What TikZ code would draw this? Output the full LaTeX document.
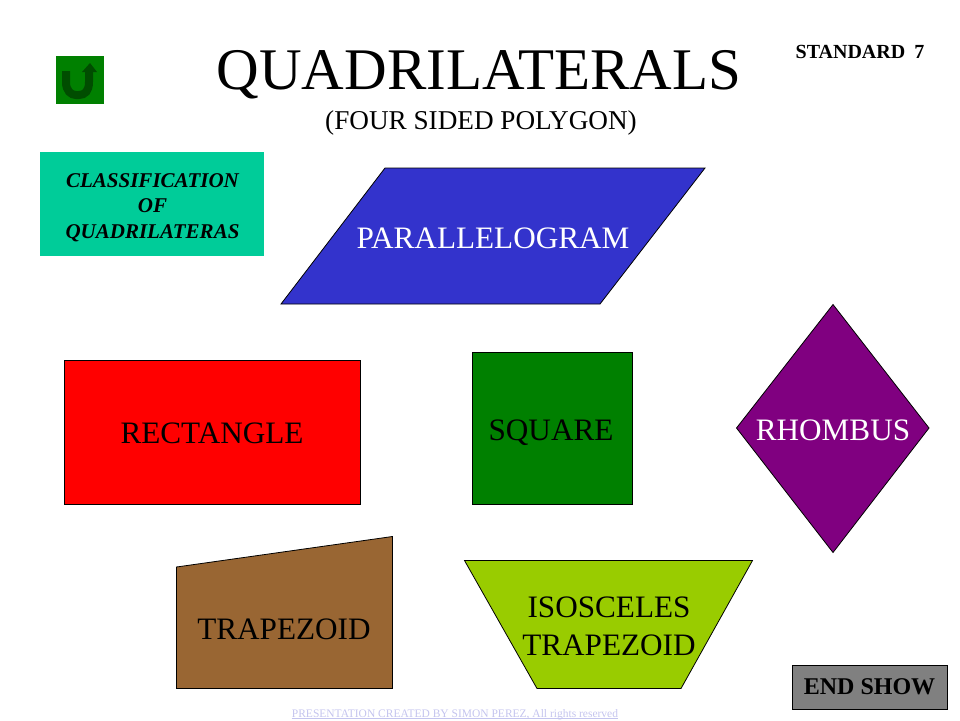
\documentclass[tikz,border=0pt]{standalone}
\usepackage{fontspec}
\setmainfont{Liberation Serif}
\definecolor{cblue}{HTML}{3333CC}
\definecolor{cteal}{HTML}{00CC99}
\definecolor{cred}{HTML}{FF0000}
\definecolor{cgreen}{HTML}{008000}
\definecolor{cpurple}{HTML}{800080}
\definecolor{cbrown}{HTML}{996633}
\definecolor{clime}{HTML}{99CC00}
\definecolor{cgray}{HTML}{808080}
\definecolor{clink}{HTML}{C4C4EE}
\definecolor{cdark}{HTML}{004D00}
\tikzset{
  x=1pt,y=-1pt,
  shapebox/.style={draw=black,line width=0.8pt,line join=miter},
  lbl/.style={inner sep=0pt,align=center,font=\fontsize{31.2}{36}\selectfont},
}
\begin{document}
\begin{tikzpicture}
\useasboundingbox (0,0) rectangle (960,720);
% return button
\path[fill=cgreen] (56,56) rectangle (104,104);
\draw[cdark,line width=8pt] (66,71) -- (66,82) .. controls (66,91) and (71,95) .. (76,95) -- (79,95) .. controls (85,95) and (89,91) .. (89,82) -- (89,71);
\path[fill=cdark] (82,72) -- (97,72) -- (90,63) -- cycle;
% titles
\node[inner sep=0pt,font=\fontsize{59}{66}\selectfont] (title) at (479,75) {QUADRILATERALS};
\node[inner sep=0pt,font=\fontsize{27.2}{30}\selectfont] (subtitle) at (481,123) {(FOUR SIDED POLYGON)};
\node[inner sep=0pt,font=\bfseries\fontsize{20}{24}\selectfont] (standard) at (860,52) {STANDARD\hspace{9pt}7};
% classification
\node[fill=cteal,minimum width=224pt,minimum height=104pt,inner sep=0pt] (classbox) at (152,204) {};
\node[inner sep=0pt,align=center,font=\bfseries\itshape\fontsize{21}{25.5}\selectfont] (classtext) at (152.5,207.5) {CLASSIFICATION\\OF\\QUADRILATERAS};
% parallelogram
\draw[shapebox,fill=cblue] (385,168) -- (705,168) -- (600,304) -- (281,304) -- cycle;
\node[lbl,text=white] (para) at (493,238) {PARALLELOGRAM};
% rectangle
\draw[shapebox,fill=cred] (64.5,360.5) rectangle (360.5,504.5);
\node[lbl] (rect) at (212,433) {RECTANGLE};
% square
\draw[shapebox,fill=cgreen] (472.5,352.5) rectangle (632.5,504.5);
\node[lbl] (square) at (551,433) {SQUARE};
% rhombus
\draw[shapebox,fill=cpurple] (833,304.5) -- (929,428) -- (833,552.5) -- (736.5,428) -- cycle;
\node[lbl,text=white] (rhombus) at (833,430) {RHOMBUS};
% trapezoid
\draw[shapebox,fill=cbrown] (176.5,567) -- (392.5,536.5) -- (392.5,688.5) -- (176.5,688.5) -- cycle;
\node[lbl] (trap) at (284,629) {TRAPEZOID};
% isosceles
\draw[shapebox,fill=clime] (464.5,560.5) -- (752.5,560.5) -- (681,688.5) -- (537,688.5) -- cycle;
\node[lbl,font=\fontsize{31.2}{38}\selectfont] (iso) at (609,626) {ISOSCELES\\TRAPEZOID};
% end show
\node[draw=black,line width=1pt,fill=cgray,minimum width=155pt,minimum height=44pt,inner sep=0pt,font=\bfseries\fontsize{24}{28}\selectfont] (endshow) at (869.5,687) {END SHOW};
% footer
\node[inner sep=0pt,anchor=base,text=clink,font=\fontsize{11.5}{14}\selectfont] (footer) at (455,717) {PRESENTATION CREATED BY SIMON PEREZ, All rights reserved};
\draw[clink,line width=0.7pt] ([yshift=-1.2pt]footer.base west) -- ([yshift=-1.2pt]footer.base east);
\end{tikzpicture}
\end{document}
